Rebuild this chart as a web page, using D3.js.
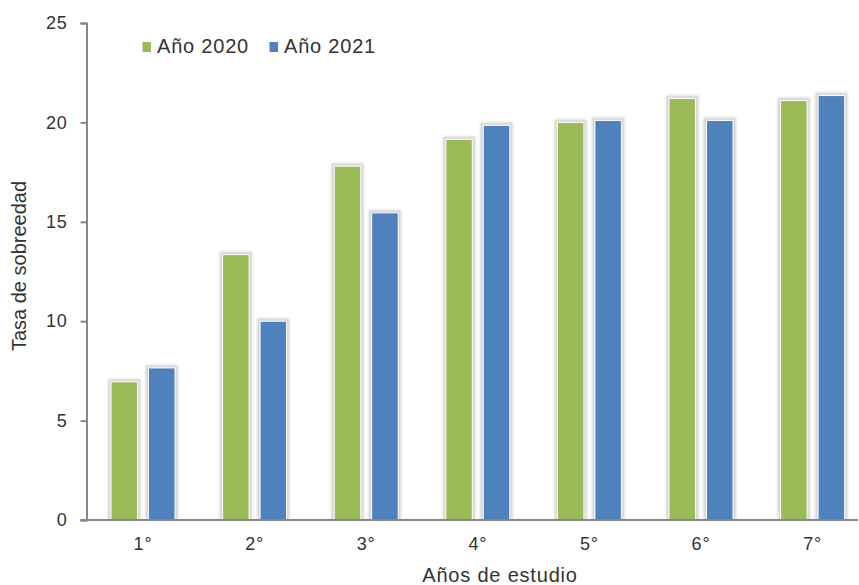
<!DOCTYPE html>
<html><head><meta charset="utf-8">
<script src="https://cdn.jsdelivr.net/npm/d3@7"></script>
<style>
html,body{margin:0;padding:0;background:#fff;}
svg{display:block;font-family:"Liberation Sans",Arial,sans-serif;}
</style></head>
<body>
<svg id="chart" width="859" height="585"></svg>
<script>
const categories = ["1°","2°","3°","4°","5°","6°","7°"];
const series2020 = [6.95, 13.35, 17.8, 19.15, 20.0, 21.2, 21.1];
const series2021 = [7.65, 10.0, 15.45, 19.85, 20.1, 20.1, 21.35];
const seriesNames = ["Año 2020","Año 2021"];
const seriesColors = ["#9BBB59","#4F81BD"];
const yTicks = [0,5,10,15,20,25];

const svg = d3.select("#chart");
const x = d3.scaleBand().domain(categories).range([87.2, 868.4]).padding(0);
const y = d3.scaleLinear().domain([0,25]).range([520, 23]);

const defs = svg.append("defs");
defs.append("filter").attr("id","sh").attr("x","-50%").attr("y","-10%").attr("width","200%").attr("height","120%")
  .append("feGaussianBlur").attr("stdDeviation",1.3);

const barW = 26.5, gap = 11;
const data = [];
categories.forEach((c,i)=>{
  data.push({c, v: series2020[i], s:0});
  data.push({c, v: series2021[i], s:1});
});
const bx = d => x(d.c) + x.bandwidth()/2 + (d.s===0 ? -gap/2 - barW : gap/2);

// shadows
svg.append("g").selectAll("rect").data(data).join("rect")
  .attr("x", d => bx(d) - 3).attr("y", d => y(d.v) - 3)
  .attr("width", barW + 6).attr("height", d => y(0) - y(d.v) + 3)
  .attr("fill", "#d6d6d6").attr("filter","url(#sh)");
// bars
svg.append("g").selectAll("rect").data(data).join("rect")
  .attr("x", d => bx(d)).attr("y", d => y(d.v))
  .attr("width", barW).attr("height", d => y(0) - y(d.v))
  .attr("fill", d => seriesColors[d.s])
  .attr("stroke","#fff").attr("stroke-width",1);

const tickFont = sel => sel.attr("fill","#333").style("font-size","18px")
  .style("letter-spacing","0.8px").style("font-family","Liberation Sans, Arial, sans-serif");

// y axis
const ya = svg.append("g").attr("transform","translate(86.5,0)")
  .call(d3.axisLeft(y).tickValues(yTicks).tickSize(6).tickSizeOuter(6).tickPadding(13));
ya.select(".domain").attr("stroke","#868686").attr("stroke-width",2);
ya.selectAll(".tick line").attr("stroke","#868686").attr("stroke-width",2);
ya.selectAll(".tick text").call(tickFont);

// x axis
const xa = svg.append("g").attr("transform","translate(0,520)")
  .call(d3.axisBottom(x).tickSize(0).tickPadding(17));
xa.select(".domain").attr("stroke","#868686").attr("stroke-width",2).attr("d","M80.5,0H858");
xa.selectAll(".tick text").call(tickFont);

// axis titles
svg.append("text").attr("x", 500).attr("y", 582).attr("text-anchor","middle")
  .attr("fill","#333").style("font-size","20px").style("letter-spacing","0.8px").text("Años de estudio");
svg.append("text").attr("transform","translate(26,266) rotate(-90)").attr("text-anchor","middle")
  .attr("fill","#333").style("font-size","20px").text("Tasa de sobreedad");

// legend
const legX = [142.5, 269.5];
const lg = svg.append("g");
seriesNames.forEach((n,i)=>{
  lg.append("rect").attr("x", legX[i]).attr("y", 42).attr("width",8.5).attr("height",10).attr("fill", seriesColors[i]);
  lg.append("text").attr("x", legX[i]+14.5).attr("y", 53).attr("fill","#333")
    .style("font-size","20px").style("letter-spacing","0.8px").text(n);
});
</script>
</body></html>
